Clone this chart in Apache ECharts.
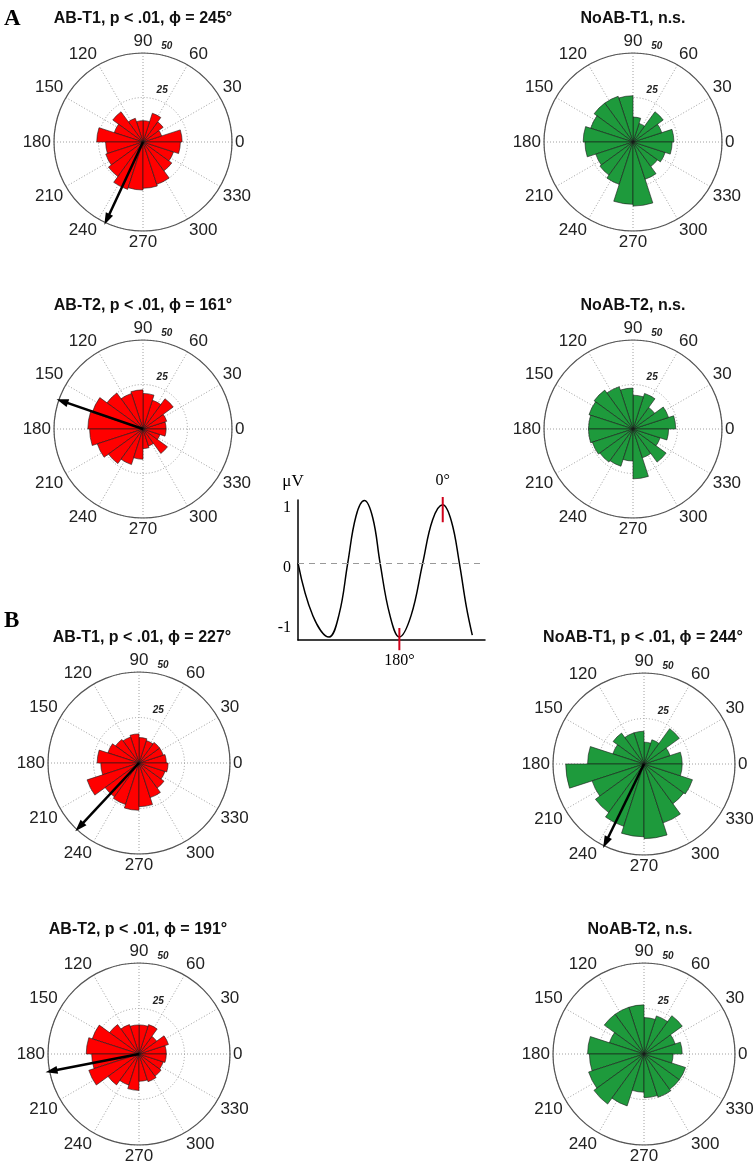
<!DOCTYPE html>
<html>
<head>
<meta charset="utf-8">
<script src="https://cdn.jsdelivr.net/npm/echarts@6/dist/echarts.min.js"></script>
<style>
  html, body { margin: 0; padding: 0; background: #fff; }
  #chart { width: 754px; height: 1163px; }
</style>
</head>
<body>
<div id="chart"></div>
<script>
// phase bins of the rose plots (20 bins of 18 deg, counter-clockwise from 0)
const bins = ['0', '18', '36', '54', '72', '90', '108', '126', '144', '162',
  '180', '198', '216', '234', '252', '270', '288', '306', '324', '342'];

// counts per bin
const abT1A   = [22, 11, 14, 17, 12, 12, 14, 21, 17, 26, 21, 22, 24, 28, 27, 26, 25, 20, 18, 21];
const noabT1A = [23, 17, 21, 11, 14, 26, 27, 27, 25, 28, 27, 22, 23, 25, 35, 36, 22, 17, 19, 22];
const abT2A   = [13, 14, 21, 17, 20, 22, 21, 25, 30, 31, 30, 27, 24, 21, 17, 11, 10, 17, 10, 13];
const noabT2A = [24, 21, 15, 21, 19, 23, 25, 27, 26, 25, 25, 24, 23, 22, 18, 28, 17, 23, 16, 20];
const abT1B   = [15, 14, 14, 13, 14, 16, 15, 16, 18, 23, 21, 30, 23, 24, 26, 24, 20, 17, 15, 16];
const noabT1B = [21, 15, 24, 14, 12, 18, 18, 21, 18, 31, 43, 30, 33, 36, 40, 41, 34, 27, 28, 21];
const abT2B   = [15, 17, 12, 17, 16, 16, 17, 20, 27, 29, 26, 29, 21, 18, 20, 15, 16, 15, 14, 15];
const noabT2B = [21, 18, 26, 22, 20, 27, 27, 27, 20, 31, 30, 32, 34, 30, 21, 24, 25, 24, 24, 16];

// mean phase vectors (null = n.s.)
const meanPhase = [245, null, 161, null, 227, 244, 191, null];
const meanLength = [48, null, 48, null, 48, 48, 49, null];

const titles = [
  'AB-T1, p < .01, \u03d5 = 245°', 'NoAB-T1, n.s.',
  'AB-T2, p < .01, \u03d5 = 161°', 'NoAB-T2, n.s.',
  'AB-T1, p < .01, \u03d5 = 227°', 'NoAB-T1, p < .01, \u03d5 = 244°',
  'AB-T2, p < .01, \u03d5 = 191°', 'NoAB-T2, n.s.'
];
const counts = [abT1A, noabT1A, abT2A, noabT2A, abT1B, noabT1B, abT2B, noabT2B];

// inset: schematic oscillation (x in % of trace width, y in µV)
const waveX = [0, 8.0, 16.6, 22.0, 26.6, 31.0, 35.5, 40.0, 43.9, 49.0, 54.2, 60.5, 66.7, 72.0, 77.4, 82.0, 86.3, 90.0, 93.2];
const waveY = [0, -0.88, -1.23, -0.85, 0, 0.78, 1.04, 0.75, 0, -0.85, -1.23, -0.87, 0, 0.72, 0.97, 0.70, 0, -0.72, -1.2];
const waveTicks = [-1, 0, 1];
// phase markers on the trace
const tick180 = [[54.2, -1.08], [54.2, -1.45]];
const tick0 = [[77.4, 0.68], [77.4, 1.1]];

// layout
const RED = '#ff0000', GREEN = '#1e9a3c';
const layout = [
  { c: [143, 142], r: 89, t: [143, 11], col: RED },
  { c: [633, 142], r: 89, t: [633, 11], col: GREEN },
  { c: [143, 429], r: 89, t: [143, 298], col: RED },
  { c: [633, 429], r: 89, t: [633, 298], col: GREEN },
  { c: [139, 763], r: 91, t: [142, 630], col: RED },
  { c: [644, 764], r: 91, t: [643, 630], col: GREEN },
  { c: [139, 1054], r: 91, t: [138, 922], col: RED },
  { c: [644, 1054], r: 91, t: [640, 922], col: GREEN }
];

const SANS = 'Liberation Sans, Arial, sans-serif';
const SERIF = 'Liberation Serif, Times New Roman, serif';

const polar = [], angleAxis = [], radiusAxis = [], series = [];
const title = [
  { text: 'A', left: 4, top: 8, padding: 0, textStyle: { fontFamily: SERIF, fontWeight: 'bold', fontSize: 23, color: '#000' } },
  { text: 'B', left: 4, top: 610, padding: 0, textStyle: { fontFamily: SERIF, fontWeight: 'bold', fontSize: 23, color: '#000' } }
];

layout.forEach((L, k) => {
  const g = k * 3;
  title.push({
    text: titles[k], left: L.t[0], top: L.t[1], textAlign: 'center', padding: 0,
    textStyle: { fontFamily: SANS, fontWeight: 'bold', fontSize: 16, color: '#111' }
  });

  // grid, outer circle and angle labels
  polar.push({ center: L.c, radius: L.r });
  angleAxis.push({
    polarIndex: g, type: 'value', min: 0, max: 360, interval: 30,
    startAngle: 0, clockwise: false,
    axisLine: { lineStyle: { color: '#555', width: 1.2 } },
    axisTick: { show: false },
    axisLabel: { margin: 3, fontSize: 17, fontFamily: SANS, color: '#222', showMaxLabel: false },
    splitLine: { lineStyle: { color: '#a0a0a0', width: 1, type: [1, 2] } }
  });
  radiusAxis.push({
    polarIndex: g, type: 'value', min: 0, max: 50, interval: 25,
    axisLine: { show: false }, axisTick: { show: false }, axisLabel: { show: false },
    splitLine: { lineStyle: { color: '#a0a0a0', width: 1, type: [1, 2] } }
  });

  // rose bars
  polar.push({ center: L.c, radius: L.r });
  angleAxis.push({
    polarIndex: g + 1, type: 'category', data: bins, startAngle: 0, clockwise: false,
    axisLine: { show: false }, axisTick: { show: false }, axisLabel: { show: false }, splitLine: { show: false }
  });
  radiusAxis.push({ polarIndex: g + 1, type: 'value', min: 0, max: 50, show: false });

  // radius labels 25 / 50
  polar.push({ center: L.c, radius: L.r });
  angleAxis.push({ polarIndex: g + 2, type: 'value', min: 0, max: 360, startAngle: 84, show: false });
  radiusAxis.push({
    polarIndex: g + 2, type: 'value', min: 0, max: 50, interval: 25,
    axisLine: { show: false }, axisTick: { show: false }, splitLine: { show: false },
    axisLabel: {
      showMinLabel: false, margin: -9, align: 'left', verticalAlign: 'bottom', padding: [0, 0, 3, 0],
      fontSize: 10, fontStyle: 'italic', fontWeight: 'bold', fontFamily: SANS, color: '#222'
    }
  });

  series.push({
    type: 'bar', coordinateSystem: 'polar', polarIndex: g + 1,
    data: counts[k], barCategoryGap: '0%',
    itemStyle: { color: L.col, borderColor: '#1a1a1a', borderWidth: 0.6 },
    silent: true, z: 3
  });

  if (meanPhase[k] !== null) {
    const phi = meanPhase[k];
    series.push({
      type: 'line', coordinateSystem: 'polar', polarIndex: g,
      data: [
        { value: [0, phi], symbol: 'none' },
        { value: [meanLength[k], phi], symbol: 'triangle', symbolSize: [8, 12], symbolRotate: phi - 90 }
      ],
      lineStyle: { color: '#000', width: 2.5 },
      itemStyle: { color: '#000' },
      silent: true, z: 6
    });
  }
});

function phaseTick(pts, text, pos, dist) {
  return {
    type: 'line', clip: false, silent: true, z: 6,
    data: [
      { value: pts[0], symbol: 'none' },
      { value: pts[1], symbol: 'circle', symbolSize: 0,
        label: { show: true, position: pos, distance: dist, formatter: text, fontFamily: SERIF, fontSize: 16, color: '#000' } }
    ],
    lineStyle: { color: '#d0021b', width: 2 },
    itemStyle: { color: '#d0021b' }
  };
}

const option = {
  animation: false,
  backgroundColor: '#fff',
  title: title,
  polar: polar,
  angleAxis: angleAxis,
  radiusAxis: radiusAxis,
  grid: { left: 298, top: 500, width: 187, height: 140 },
  xAxis: {
    type: 'value', min: 0, max: 100,
    axisLine: { onZero: false, lineStyle: { color: '#000', width: 1.5 } },
    axisTick: { show: false }, axisLabel: { show: false }, splitLine: { show: false }
  },
  yAxis: {
    type: 'value', min: -1.28, max: 1.05,
    name: 'μV', nameLocation: 'end', nameGap: 10,
    nameTextStyle: { fontFamily: SERIF, fontSize: 17, color: '#000', padding: [0, 10, 0, 0] },
    axisLine: { onZero: false, lineStyle: { color: '#000', width: 1.5 } },
    axisTick: { show: false },
    axisLabel: {
      customValues: waveTicks, margin: 7, formatter: '{v|{value}}',
      rich: { v: { fontFamily: SERIF, fontSize: 16, color: '#000', padding: [10, 0, 0, 0] } }
    },
    splitLine: { show: false }
  },
  series: series.concat([
    {
      type: 'line',
      data: waveX.map((x, i) => [x, waveY[i]]),
      smooth: 0.4, symbol: 'none', clip: false,
      lineStyle: { color: '#000', width: 1.5 },
      silent: true,
      markLine: {
        silent: true, symbol: 'none', animation: false,
        label: { show: false },
        lineStyle: { color: '#999', type: [6, 5], width: 1 },
        data: [{ yAxis: 0 }]
      }
    },
    phaseTick(tick180, '180°', 'bottom', 3),
    phaseTick(tick0, '0°', 'top', 8)
  ])
};

echarts.init(document.getElementById('chart')).setOption(option);
</script>
</body>
</html>
